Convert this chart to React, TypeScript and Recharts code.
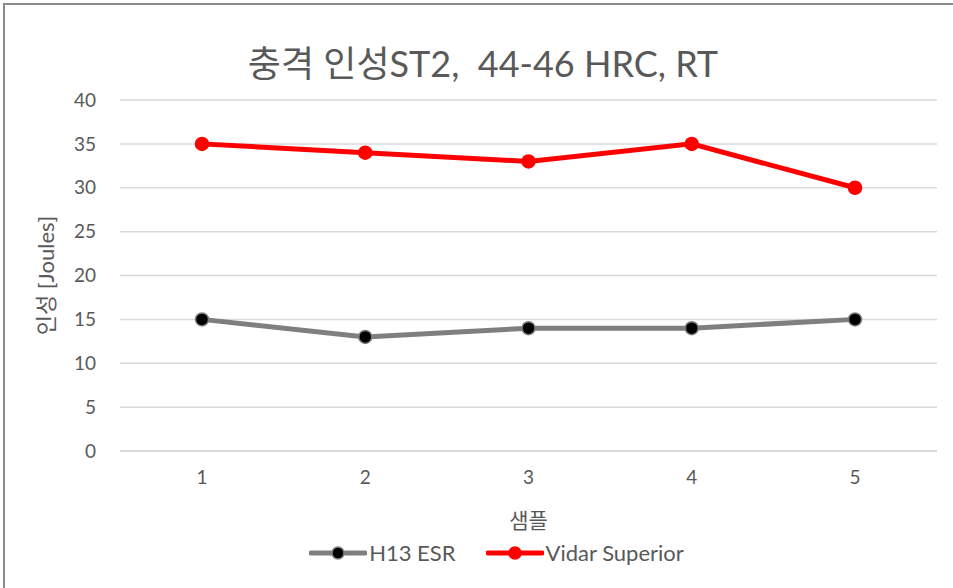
import { LineChart, Line, XAxis, YAxis, CartesianGrid, Legend, Label } from 'recharts';

const samples = ['1', '2', '3', '4', '5'];
const h13Esr = [15, 13, 14, 14, 15];
const vidarSuperior = [35, 34, 33, 35, 30];
const yTicks = [0, 5, 10, 15, 20, 25, 30, 35, 40];

const data = samples.map((s, i) => ({ name: s, h13: h13Esr[i], vidar: vidarSuperior[i] }));

const FONT = "Lato, 'Noto Sans CJK KR', sans-serif";
const TEXT = '#595959';

const series = [
    { key: 'h13', label: 'H13 ESR', color: '#7f7f7f', dot: '#000000' },
    { key: 'vidar', label: 'Vidar Superior', color: '#ff0000', dot: '#ff0000' },
];

// Legend with a line + dot icon, like the spreadsheet style
function renderLegend() {
    return (
        <div style={{ display: 'flex', justifyContent: 'center', gap: 30, fontFamily: FONT, fontSize: 22, color: TEXT, marginLeft: 56, height: 27 }}>
            {series.map((s) => (
                <div key={s.key} style={{ display: 'flex', alignItems: 'center' }}>
                    <svg width={58} height={16} style={{ marginRight: 2 }}>
                        <line x1={2} y1={8} x2={56} y2={8} stroke={s.color} strokeWidth={5} strokeLinecap="round" />
                        <circle cx={29} cy={8} r={6} fill={s.dot} stroke={s.color} strokeWidth={1.5} />
                    </svg>
                    <span>{s.label}</span>
                </div>
            ))}
        </div>
    );
}

export default function App() {
    return (
        <div style={{ position: 'absolute', left: 0, top: 0, width: 953, height: 588, background: '#fff', overflow: 'hidden' }}>
            <div style={{ position: 'absolute', left: 3, top: 3, width: 1000, height: 700, borderTop: '2px solid #8c8c8c', borderLeft: '2px solid #8c8c8c' }} />
            <div style={{ position: 'absolute', left: 0, top: 35, width: 966, textAlign: 'center', fontFamily: FONT, fontSize: 36, color: TEXT }}>
                충격 인성ST2,&nbsp; 44-46 HRC, RT
            </div>
            <LineChart width={953} height={588} data={data} margin={{ top: 100, right: 16, left: 0, bottom: 22 }}>
                <CartesianGrid vertical={false} stroke="#d9d9d9" strokeWidth={1.5} />
                <XAxis
                    dataKey="name"
                    padding={{ left: 82, right: 82 }}
                    axisLine={{ stroke: '#d9d9d9', strokeWidth: 1.5 }}
                    tickLine={false}
                    tick={{ fill: TEXT, fontSize: 19, fontFamily: FONT }}
                    tickMargin={14}
                    height={88}
                >
                    <Label value="샘플" position="insideBottom" offset={11} fill={TEXT} fontSize={21} fontFamily={FONT} />
                </XAxis>
                <YAxis
                    domain={[0, 40]}
                    ticks={yTicks}
                    axisLine={false}
                    tickLine={false}
                    tick={{ fill: TEXT, fontSize: 19, fontFamily: FONT }}
                    tickMargin={18}
                    width={120}
                >
                    <Label value="인성 [Joules]" angle={-90} position="insideLeft" offset={46} fill={TEXT} fontSize={22} fontFamily={FONT} style={{ textAnchor: 'middle' }} />
                </YAxis>
                <Legend verticalAlign="bottom" content={renderLegend} />
                {series.map((s) => (
                    <Line
                        key={s.key}
                        dataKey={s.key}
                        name={s.label}
                        stroke={s.color}
                        strokeWidth={5}
                        dot={{ r: 6.5, fill: s.dot, stroke: s.color, strokeWidth: 1.5 }}
                        activeDot={false}
                        isAnimationActive={false}
                    />
                ))}
            </LineChart>
        </div>
    );
}
